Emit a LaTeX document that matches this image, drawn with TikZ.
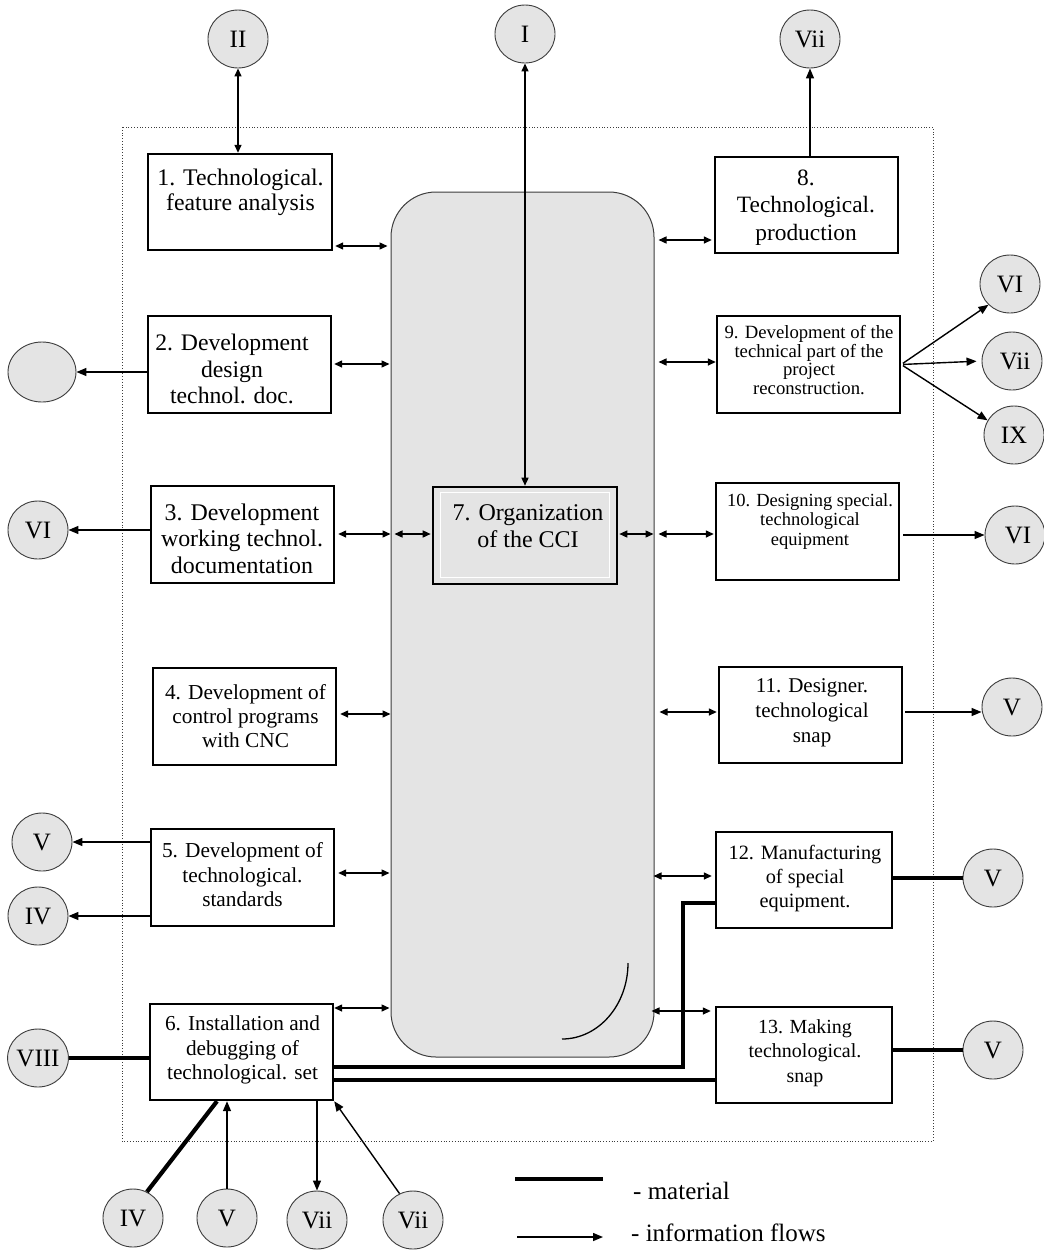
\documentclass[tikz,border=0pt]{standalone}
\usepackage{fontspec}
\setmainfont{Liberation Serif}
\usetikzlibrary{arrows.meta,shapes.geometric}
\definecolor{fillgray}{RGB}{228,228,228}
\definecolor{edgegray}{RGB}{60,60,60}
\newcommand\fsz[2]{\fontsize{#1}{#2}\selectfont}
\tikzset{
 box/.style={draw=black, line width=2.4pt, fill=white, inner sep=0pt},
 circ/.style={ellipse, draw=edgegray, line width=0.9pt, fill=fillgray, minimum width=60pt, minimum height=58pt, inner sep=0pt, font=\fsz{25}{27}},
 info/.style={line width=1.4pt, -{Triangle[length=10pt,width=8pt]}},
 both/.style={line width=1.4pt, {Triangle[length=8pt,width=7pt]}-{Triangle[length=8pt,width=7pt]}},
 mat/.style={line width=4.2pt},
 lbl/.style={align=center, inner sep=0pt},
}
\begin{document}
\begin{tikzpicture}[x=1pt,y=-1pt]
\useasboundingbox (0,0) rectangle (1044,1251);
% outer dotted frame
\draw[dotted, line width=0.8pt, edgegray] (122,127) rectangle (933,1141);
% central column
\node[draw=edgegray, line width=1pt, fill=fillgray, rounded corners=45pt, minimum width=263pt, minimum height=865pt, inner sep=0pt] (cc) at (522.5,624.5) {};
\draw[line width=1.3pt] (628,963) .. controls (628,1005) and (598.5,1039) .. (562,1039);

% boxes
\node[box, minimum width=184pt, minimum height=96pt] (b1) at (240,202) {};
\node[box, minimum width=183pt, minimum height=97pt] (b2) at (239.5,364.5) {};
\node[box, minimum width=183pt, minimum height=97pt] (b3) at (242.5,534.5) {};
\node[box, minimum width=183pt, minimum height=97pt] (b4) at (244.5,716.5) {};
\node[box, minimum width=183pt, minimum height=97pt] (b5) at (242.5,877.5) {};
\node[box, minimum width=183pt, minimum height=96pt] (b6) at (241.5,1052) {};
\node[box, fill=fillgray, line width=2.6pt, minimum width=184pt, minimum height=97pt] (b7) at (525,535.5) {};
\draw[white, line width=1.5pt] ([shift={(9,7)}]b7.north west) rectangle ([shift={(-9,-8)}]b7.south east);
\node[box, minimum width=183pt, minimum height=96pt] (b8) at (806.5,205) {};
\node[box, minimum width=183pt, minimum height=97pt] (b9) at (808.5,364.5) {};
\node[box, minimum width=183pt, minimum height=97pt] (b10) at (807.5,531.5) {};
\node[box, minimum width=183pt, minimum height=96pt] (b11) at (810.5,715) {};
\node[box, minimum width=176pt, minimum height=96pt] (b12) at (804,880) {};
\node[box, minimum width=176pt, minimum height=96pt] (b13) at (804,1055) {};

% box texts
\node[lbl, font=\fsz{23.8}{25}] (t1) at (240.5,192.5) {1. Technological.\\feature analysis};
\node[lbl, font=\fsz{23.7}{26.5}] (t2) at (232,369) {2. Development\\design\\technol. doc.};
\node[lbl, font=\fsz{23.9}{26.5}] (t3) at (242,538.5) {3. Development\\working technol.\\documentation};
\node[lbl, font=\fsz{21.3}{24}] (t4) at (245.5,716) {4. Development of\\control programs\\with CNC};
\node[lbl, font=\fsz{21.3}{24.5}] (t5) at (242.5,875) {5. Development of\\technological.\\standards};
\node[lbl, font=\fsz{21.3}{24.5}] (t6) at (242.5,1050) {6. Installation and\\debugging of\\technological. set};
\node[lbl, font=\fsz{24}{27}] (t7) at (528,526.5) {7. Organization\\of the CCI};
\node[lbl, font=\fsz{23.4}{27.5}] (t8) at (806,207.5) {8.\\Technological.\\production};
\node[lbl, font=\fsz{18.7}{18.8}] (t9) at (809,360) {9. Development of the\\technical part of the\\project\\reconstruction.};
\node[lbl, font=\fsz{18.5}{19.5}] (t10) at (810,521.5) {10. Designing special.\\technological\\equipment};
\node[lbl, font=\fsz{21}{25}] (t11) at (812,713) {11. Designer.\\technological\\snap};
\node[lbl, font=\fsz{20.3}{24}] (t12) at (805,879) {12. Manufacturing\\of special\\equipment.};
\node[lbl, font=\fsz{20}{24.5}] (t13) at (805,1053) {13. Making\\technological.\\snap};

% circles
\node[circ] (cII) at (238,39) {II};
\node[circ] (cI) at (525,34) {I};
\node[circ] (cVIIt) at (810,39) {Vii};
\node[circ, minimum width=68pt, minimum height=60pt] (cE) at (42,372) {};
\node[circ] (cVI9) at (1010,284) {VI};
\node[circ] (cVii9) at (1012,361) {\hspace{6pt}Vii};
\node[circ] (cIX) at (1014,435) {IX};
\node[circ] (cVI3) at (38,530) {VI};
\node[circ] (cVI10) at (1015,535) {\hspace{6pt}VI};
\node[circ] (cV11) at (1012,707) {V};
\node[circ] (cV5) at (42,842) {V};
\node[circ] (cIV5) at (38,916) {IV};
\node[circ] (cV12) at (993,878) {V};
\node[circ] (cVIII) at (38,1058) {VIII};
\node[circ] (cV13) at (993,1050) {V};
\node[circ] (cIVb) at (133,1218) {IV};
\node[circ] (cVb) at (227,1218) {V};
\node[circ] (cViib1) at (317,1220) {Vii};
\node[circ] (cViib2) at (413,1220) {Vii};

% connectors to the top circles
\draw[both] (cII.south) -- (cII.south |- b1.north);
\draw[both] (cI.south) -- (cI.south |- b7.north);
\draw[info] (cVIIt.south |- b8.north) -- (cVIIt.south);

% left outputs
\draw[info] (b2.west |- cE) -- (cE.east);
\draw[info] (b3.west |- cVI3) -- (cVI3.east);
\draw[info] (b5.west |- cV5) -- (cV5.east);
\draw[info] (b5.west |- cIV5) -- (cIV5.east);
\draw[mat] (cVIII.east) -- (b6.west |- cVIII);

% right outputs
\draw[info, shorten <=2pt] (b9.east) -- (cVI9.224);
\draw[info, shorten <=2pt, shorten >=5pt] (b9.east) -- (cVii9.west);
\draw[info, shorten <=2pt] (b9.east) -- (cIX.151);
\draw[info, shorten <=3pt] (b10.east |- cVI10) -- (cVI10.west);
\draw[info, shorten <=2pt] (b11.east |- 0,712) -- (cV11.west |- 0,712);
\draw[mat] (b12.east |- cV12) -- (cV12.west);
\draw[mat] (b13.east |- cV13) -- (cV13.west);

% double arrows with the central column
\draw[both, shorten <=2pt, shorten >=3pt] (b1.east |- 0,246) -- (cc.west |- 0,246);
\draw[both, shorten <=2pt, shorten >=1pt] (b2.east |- 0,364) -- (cc.west |- 0,364);
\draw[both, shorten <=3pt] (b3.east |- 0,534) -- (cc.west |- 0,534);
\draw[both, shorten <=4pt, shorten >=1pt] (cc.west |- 0,534) -- (b7.west |- 0,534);
\draw[both, shorten <=1pt, shorten >=1pt] (b7.east |- 0,534) -- (cc.east |- 0,534);
\draw[both, shorten <=4pt, shorten >=1pt] (cc.east |- 0,534) -- (b10.west |- 0,534);
\draw[both, shorten <=3pt] (b4.east |- 0,714) -- (cc.west |- 0,714);
\draw[both, shorten <=3pt, shorten >=1pt] (b5.east |- 0,873) -- (cc.west |- 0,873);
\draw[both, shorten >=1pt] (b6.east |- 0,1008) -- (cc.west |- 0,1008);
\draw[both, shorten <=4pt, shorten >=2pt] (cc.east |- 0,240) -- (b8.west |- 0,240);
\draw[both, shorten <=4pt] (cc.east |- 0,362) -- (b9.west |- 0,362);
\draw[both, shorten <=5pt, shorten >=1pt] (cc.east |- 0,712) -- (b11.west |- 0,712);
\draw[both, shorten <=-1pt, shorten >=3pt] (cc.east |- 0,876) -- (b12.west |- 0,876);
\draw[both, shorten <=-3pt, shorten >=4pt] (cc.east |- 0,1011) -- (b13.west |- 0,1011);

% material links from box 6
\draw[mat] (b6.east |- 0,1067) -| (683,903) -- (b12.west |- 0,903);
\draw[mat] (b6.east |- 0,1080) -- (b13.west |- 0,1080);

% bottom links of box 6
\draw[mat] (cIVb.62) -- (b6.south -| 217,0);
\draw[info] (cVb.north) -- (cVb.north |- b6.south);
\draw[info] (cViib1.north |- b6.south) -- (cViib1.north);
\draw[info] (cViib2.117) -- (b6.south east);

% legend
\coordinate (lm1) at (515,1179);
\coordinate (lm2) at (603,1179);
\coordinate (li1) at (517,1237);
\coordinate (li2) at (603,1237);
\draw[mat] (lm1) -- (lm2);
\draw[info] (li1) -- (li2);
\node[anchor=west, inner sep=0pt, font=\fsz{25}{27}] (lgm) at (633,1191) {- material};
\node[anchor=west, inner sep=0pt, font=\fsz{25}{27}] (lgi) at (631,1233) {- information flows};
\end{tikzpicture}
\end{document}
